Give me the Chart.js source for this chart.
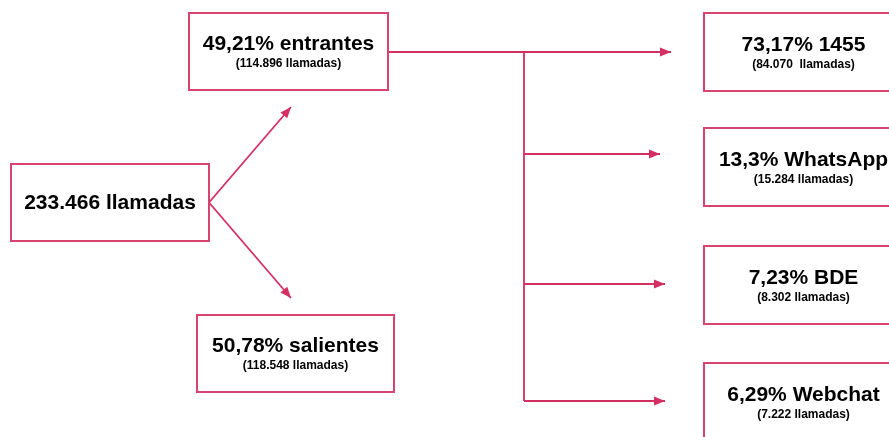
<!DOCTYPE html>
<html>
<head>
<meta charset="utf-8">
<script src="https://cdn.jsdelivr.net/npm/chart.js@4"></script>
<style>
  html, body { margin: 0; padding: 0; background: #fff; }
</style>
</head>
<body>
<canvas id="grafico" width="889" height="437"></canvas>
<script>
// datos
const totalLlamadas = '233.466';
const ramaLabels = ['entrantes', 'salientes'];
const ramaPct = ['49,21%', '50,78%'];
const ramaCount = ['114.896', '118.548'];
const canalLabels = ['1455', 'WhatsApp', 'BDE', 'Webchat'];
const canalPct = ['73,17%', '13,3%', '7,23%', '6,29%'];
const canalCount = ['84.070 ', '15.284', '8.302', '7.222'];

// layout del diagrama (unidades de la escala 0..889 x 0..437)
const raizBox = {x: 11, y: 164, w: 198, h: 77};
const ramaBox = [{x: 189, y: 13, w: 199, h: 77}, {x: 197, y: 315, w: 197, h: 77}];
const canalX = 704, canalW = 199, canalH = 78;
const canalTop = [13, 128, 246, 363];
const canalArrowY = [52, 154, 284, 401];
const canalArrowTip = [671, 660, 665, 665];
const troncoX = 524;
const raizArrowTip = [{x: 291, y: 107}, {x: 291, y: 298}];

const lineColor = '#d42f62';
const boxColor = '#d8446f';
const FONT = '"Liberation Sans", Arial, sans-serif';

// conectores como datasets de linea
const raizOut = {x: raizBox.x + raizBox.w, y: raizBox.y + raizBox.h / 2};
const entOut = {x: ramaBox[0].x + ramaBox[0].w, y: canalArrowY[0]};
const connectors = [
  [raizOut, raizArrowTip[0]],
  [raizOut, raizArrowTip[1]],
  [entOut, {x: canalArrowTip[0], y: canalArrowY[0]}],
  [{x: troncoX, y: canalArrowY[0]}, {x: troncoX, y: canalArrowY[3]}],
];
for (let i = 1; i < canalLabels.length; i++) {
  connectors.push([{x: troncoX, y: canalArrowY[i]}, {x: canalArrowTip[i], y: canalArrowY[i]}]);
}

const arrowHeads = [
  [raizOut, raizArrowTip[0]],
  [raizOut, raizArrowTip[1]],
  ...canalLabels.map((_, i) => [{x: troncoX, y: canalArrowY[i]}, {x: canalArrowTip[i], y: canalArrowY[i]}])
];

const diagrama = {
  id: 'diagrama',
  afterDatasetsDraw(chart) {
    const {ctx, scales: {x, y}} = chart;
    const px = v => x.getPixelForValue(v);
    const py = v => y.getPixelForValue(v);

    ctx.save();
    // puntas de flecha
    ctx.fillStyle = lineColor;
    arrowHeads.forEach(([a, b]) => {
      const x1 = px(a.x), y1 = py(a.y), x2 = px(b.x), y2 = py(b.y);
      const ang = Math.atan2(y2 - y1, x2 - x1);
      const len = 11, half = 4.5;
      ctx.beginPath();
      ctx.moveTo(x2, y2);
      ctx.lineTo(x2 - len * Math.cos(ang) + half * Math.sin(ang), y2 - len * Math.sin(ang) - half * Math.cos(ang));
      ctx.lineTo(x2 - len * Math.cos(ang) - half * Math.sin(ang), y2 - len * Math.sin(ang) + half * Math.cos(ang));
      ctx.closePath();
      ctx.fill();
    });

    const box = (b) => {
      ctx.strokeStyle = boxColor;
      ctx.lineWidth = 2;
      ctx.fillStyle = '#fff';
      const x0 = px(b.x), y0 = py(b.y), w = px(b.x + b.w) - x0, h = py(b.y + b.h) - y0;
      ctx.fillRect(x0, y0, w, h);
      ctx.strokeRect(x0, y0, w, h);
    };
    const texto = (cx, cy, t, font) => {
      ctx.fillStyle = '#000';
      ctx.font = font;
      ctx.textAlign = 'center';
      ctx.textBaseline = 'middle';
      ctx.fillText(t, px(cx), py(cy));
    };

    box(raizBox);
    texto(raizBox.x + raizBox.w / 2, raizBox.y + raizBox.h / 2 + 1, totalLlamadas + ' llamadas', 'bold 21px ' + FONT);

    ramaBox.forEach((b, i) => {
      box(b);
      texto(b.x + b.w / 2, b.y + 31, ramaPct[i] + ' ' + ramaLabels[i], 'bold 21px ' + FONT);
      texto(b.x + b.w / 2, b.y + 51, '(' + ramaCount[i] + ' llamadas)', 'bold 12px ' + FONT);
    });

    canalLabels.forEach((lab, i) => {
      const b = {x: canalX, y: canalTop[i], w: canalW, h: canalH};
      box(b);
      texto(b.x + b.w / 2, b.y + 32, canalPct[i] + ' ' + lab, 'bold 21px ' + FONT);
      texto(b.x + b.w / 2, b.y + 52, '(' + canalCount[i] + ' llamadas)', 'bold 12px ' + FONT);
    });
    ctx.restore();
  }
};

const ctx = document.getElementById('grafico').getContext('2d');
new Chart(ctx, {
  type: 'scatter',
  data: {
    datasets: connectors.map(pts => ({
      data: pts,
      showLine: true,
      borderColor: lineColor,
      borderWidth: 1.8,
      pointRadius: 0,
      fill: false,
    }))
  },
  options: {
    responsive: false,
    animation: false,
    layout: { padding: 0 },
    plugins: { legend: { display: false }, tooltip: { enabled: false } },
    scales: {
      x: { type: 'linear', min: 0, max: 889, display: false },
      y: { type: 'linear', min: 0, max: 437, reverse: true, display: false }
    }
  },
  plugins: [diagrama]
});
</script>
</body>
</html>
